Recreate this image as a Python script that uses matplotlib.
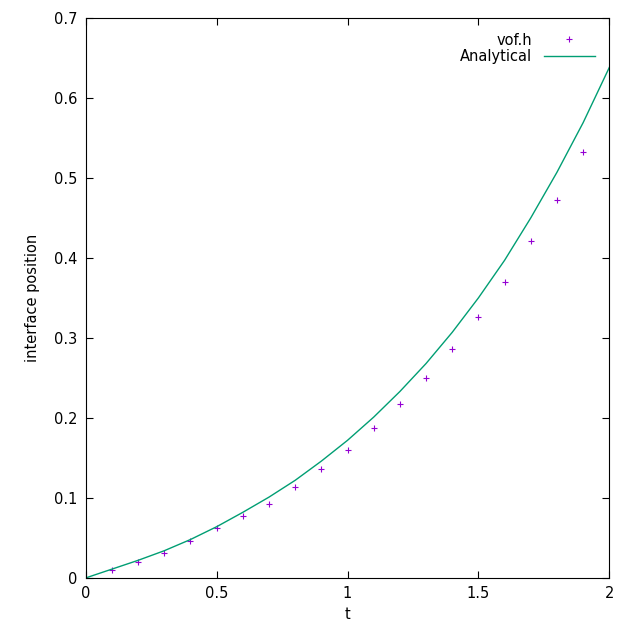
import matplotlib
matplotlib.use("Agg")
import matplotlib.pyplot as plt

t_vof = [0.1,0.2,0.3,0.4,0.5,0.6,0.7,0.8,0.9,1.0,1.1,1.2,1.3,1.4,1.5,1.6,1.7,1.8,1.9]
h_vof = [0.010,0.020,0.031,0.046,0.0625,0.0775,0.0925,0.114,0.136,0.160,0.1875,0.2175,0.250,0.286,0.326,0.370,0.421,0.4725,0.5325]
t_an = [0,0.1,0.2,0.3,0.4,0.5,0.6,0.7,0.8,0.9,1.0,1.1,1.2,1.3,1.4,1.5,1.6,1.7,1.8,1.9,2.0]
h_an = [0,0.011,0.022,0.034,0.048,0.064,0.082,0.101,0.122,0.146,0.172,0.201,0.233,0.268,0.307,0.350,0.397,0.450,0.507,0.569,0.638]

plt.rcParams['font.size'] = 10.5
fig = plt.figure(figsize=(6.4,6.4), dpi=100)
ax = fig.add_axes([0.134,0.097,0.818,0.875])
ax.plot(t_vof, h_vof, '+', color='#9400d3', ms=4, mew=0.8, label='vof.h')
ax.plot(t_an, h_an, '-', color='#009e73', lw=1, label='Analytical')
ax.set_xlim(0,2); ax.set_ylim(0,0.7)
ax.set_xticks([0,0.5,1,1.5,2]); ax.set_xticklabels(['0','0.5','1','1.5','2'])
ax.set_yticks([i/10 for i in range(8)]); ax.set_yticklabels(['0','0.1','0.2','0.3','0.4','0.5','0.6','0.7'])
ax.tick_params(direction='in', top=True, right=True, length=5, pad=6)
ax.set_xlabel('t'); ax.set_ylabel('interface position', labelpad=10)
ax.legend(loc='upper right', frameon=False, markerfirst=False, handlelength=3.5, borderaxespad=0.6, labelspacing=0.1)
fig.savefig('out.png')
